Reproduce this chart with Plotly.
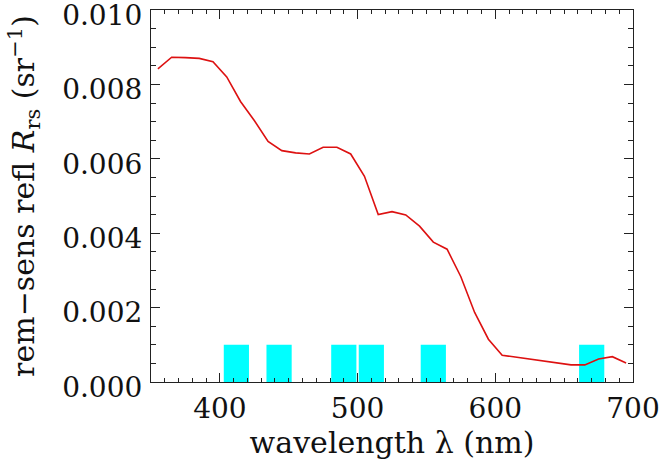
import plotly.graph_objects as go

# red reflectance spectrum
wavelength = [355, 365, 375, 385, 395, 405, 415, 425, 435, 445, 455, 465, 475, 485,
              495, 505, 515, 525, 535, 545, 555, 565, 575, 585, 595, 605, 655, 665,
              675, 685, 695]
rrs = [0.00842, 0.00873, 0.00872, 0.00870, 0.00861, 0.00820, 0.00754, 0.00703,
       0.00647, 0.00622, 0.00616, 0.00613, 0.00631, 0.00631, 0.00613, 0.00553,
       0.00450, 0.00458, 0.00449, 0.00419, 0.00376, 0.00357, 0.00283, 0.00187,
       0.00115, 0.00072, 0.00046, 0.00046, 0.00062, 0.00068, 0.00051]

# cyan sensor band markers
band_centers = [412, 443, 490, 510, 555, 670]
band_heights = [0.001, 0.001, 0.001, 0.001, 0.001, 0.001]

x_ticks = [400, 500, 600, 700]
y_ticks = [0.000, 0.002, 0.004, 0.006, 0.008, 0.010]

FONT = "DejaVu Serif"

fig = go.Figure()
fig.add_trace(go.Bar(x=band_centers, y=band_heights, width=18.3,
                     marker=dict(color="#00ffff", line=dict(width=0)),
                     showlegend=False, hoverinfo="skip"))
fig.add_trace(go.Scatter(x=wavelength, y=rrs, mode="lines",
                         line=dict(color="#dd1111", width=1.6),
                         showlegend=False))

axis_common = dict(showline=True, linecolor="#222", linewidth=1.2, mirror="ticks",
                   ticks="inside", tickcolor="#222", tickwidth=1.2, ticklen=9,
                   showgrid=False, zeroline=False, automargin=False,
                   ticklabeloverflow="allow",
                   tickfont=dict(family=FONT, size=28, color="#111"))

fig.update_xaxes(range=[350, 700.0001], tickvals=x_ticks, ticklabelstandoff=1,
                 minor=dict(dtick=10, tick0=350, ticks="inside", ticklen=4,
                            tickcolor="#222", tickwidth=1, showgrid=False),
                 title=dict(text="wavelength λ (nm)", standoff=5,
                            font=dict(family=FONT, size=30, color="#111")),
                 **axis_common)
fig.update_yaxes(range=[0, 0.0100001], tickvals=y_ticks, tickformat=".3f",
                 ticklabelstandoff=2, ticklabelshift=5,
                 minor=dict(dtick=0.0005, tick0=0, ticks="inside", ticklen=5,
                            tickcolor="#222", tickwidth=1, showgrid=False),
                 title=dict(text="rem−sens refl <i>R</i><sub>rs</sub> (sr<sup>−1</sup>)",
                            standoff=18,
                            font=dict(family=FONT, size=30, color="#111")),
                 **axis_common)

fig.update_layout(width=660, height=461, margin=dict(l=151, r=27, t=10, b=79),
                  plot_bgcolor="white", paper_bgcolor="white", barmode="overlay")

fig.write_html("out.html", config={"displayModeBar": False},
               post_script="document.body.style.margin='0';")
